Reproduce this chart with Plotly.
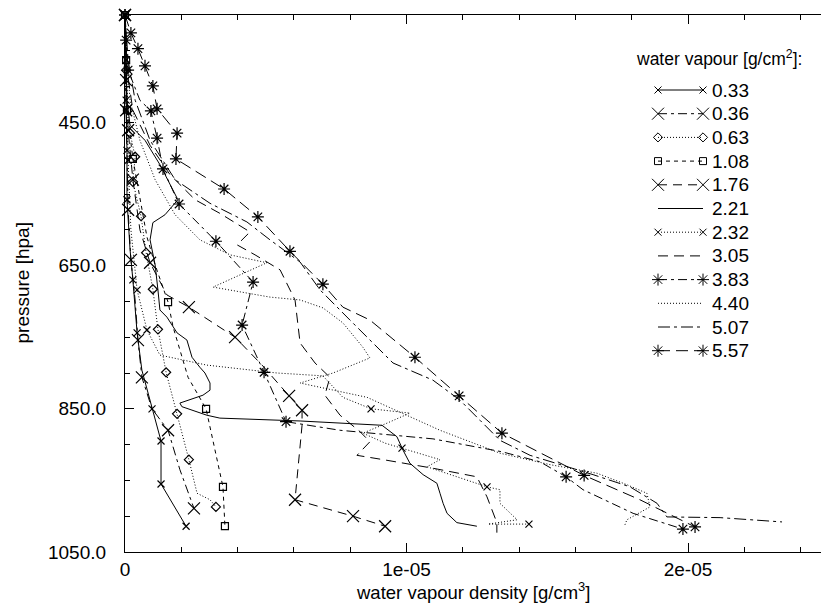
import plotly.graph_objects as go

# densities are given in units of 1e-6 g/cm^3, pressures in hPa
SCALE = 1e-6

LABELS = ["0.33", "0.36", "0.63", "1.08", "1.76", "2.21",
          "2.32", "3.05", "3.83", "4.40", "5.07", "5.57"]

R_033 = [0, 0.04, 0.04, 0.07, 0.07, 0.18, 0.28, 0.43, 0.60, 0.96, 1.28, 1.28, 2.17]
P_033 = [300, 363, 419, 489, 558, 628, 670, 744, 796, 850, 895, 955, 1014]
M_033 = [0, 1, 2, 3, 4, 6, 7, 9, 10, 11, 12]

R_036 = [0, 0, 0.04, 0.07, 0.11, 0.21, 0.36, 0.46, 0.60, 0.96, 1.53, 1.95, 2.45]
P_036 = [300, 363, 433, 503, 572, 642, 698, 754, 806, 850, 880, 935, 989]
M_036 = [0, 2, 4, 5, 7, 8, 10, 12]

R_063 = [0, 0.04, 0.11, 0.18, 0.36, 0.28, 0.57, 0.75, 0.99, 1.17, 1.46, 1.85, 2.27, 2.56, 3.02, 3.23]
P_063 = [300, 377, 433, 465, 498, 533, 581, 632, 683, 739, 799, 857, 921, 968, 977, 987]
M_063 = [1, 2, 3, 4, 5, 6, 7, 8, 9, 10, 11, 12, 15]

R_108 = [0, 0.04, 0.07, 0.28, 0.53, 0.78, 1.07, 1.53, 1.71, 1.85, 2.24, 2.88, 3.20, 3.48, 3.55]
P_108 = [300, 363, 433, 501, 558, 610, 649, 701, 736, 754, 806, 850, 908, 959, 1014]
M_108 = [0, 1, 2, 3, 7, 11, 13, 14]

R_176 = [0, 0.04, 0.11, 0.28, 0.53, 0.89, 1.49, 2.27, 3.91, 4.87, 5.83, 6.29, 6.29, 6.15, 6.04, 8.10, 9.24]
P_176 = [300, 391, 461, 530, 600, 646, 691, 708, 750, 789, 832, 852, 873, 935, 977, 1000, 1014]
M_176 = [0, 1, 2, 3, 5, 7, 8, 10, 11, 14, 15, 16]

R_221 = [0, 0.04, 0.07, 0.18, 0.71, 1.24, 1.60, 1.88, 1.42, 0.99, 0.89, 1.07, 1.17, 1.24,
         1.49, 1.85, 2.20, 2.38, 2.66, 2.84, 3.02, 3.02, 2.77, 2.20, 1.95, 2.02, 2.42, 2.91,
         3.37, 6.22, 9.13, 9.66, 9.88, 10.12, 10.59, 11.08, 11.19, 11.30, 11.44, 11.79, 12.50]
P_221 = [300, 363, 419, 454, 475, 509, 537, 558, 579, 590, 614, 649, 684, 712,
         722, 744, 754, 778, 792, 800, 814, 824, 831, 838, 842, 847, 852, 859,
         863, 867, 873, 889, 908, 926, 942, 954, 968, 982, 996, 1009, 1014]

R_232 = [0, 0.04, 0.11, 0.21, 0.43, 0.78, 1.24, 2.91, 5.40, 7.03, 7.74, 8.74, 10.12, 9.31,
         8.45, 9.24, 9.84, 11.19, 10.73, 12.86, 13.32, 13.32, 13.93, 12.90, 14.35]
P_232 = [300, 391, 503, 600, 684, 740, 775, 789, 800, 804, 834, 850, 856, 870,
         884, 898, 905, 921, 931, 959, 963, 982, 1005, 1011, 1011]
M_232 = [1, 2, 4, 5, 11, 16, 19, 24]

R_305 = [0, 0.07, 0.28, 0.89, 1.60, 2.49, 3.37, 4.44, 3.98, 4.62, 5.51, 6.04, 6.22, 6.75,
         7.28, 7.10, 7.64, 8.35, 8.70, 8.24, 9.17, 10.94, 12.50, 12.86, 13.21, 13.21]
P_305 = [300, 377, 433, 482, 523, 558, 577, 603, 621, 635, 656, 698, 758, 786,
         806, 831, 859, 882, 896, 915, 921, 933, 945, 973, 1009, 1023]

R_383 = [0, 0.04, 0.11, 0.53, 0.92, 1.14, 1.35, 1.92, 3.23, 4.55, 4.16, 4.94, 5.72, 7.64,
         10.94, 13.39, 14.74, 15.67, 16.27, 18.05, 19.82]
P_383 = [300, 335, 377, 419, 434, 472, 515, 564, 616, 673, 733, 799, 868, 880,
         892, 910, 924, 945, 963, 996, 1018]
M_383 = [0, 1, 2, 4, 5, 6, 7, 8, 9, 10, 11, 12, 17, 20]

R_440 = [0, 0.07, 0.18, 0.53, 1.07, 1.78, 2.66, 3.73, 5.04, 3.13, 5.15, 6.22, 7.03, 7.74,
         8.45, 8.70, 7.39, 6.22, 8.60, 11.19, 13.32, 15.10, 16.77, 17.83, 18.54, 18.65, 17.83, 17.76]
P_440 = [300, 363, 419, 475, 530, 579, 614, 635, 646, 680, 694, 698, 709, 730,
         764, 779, 800, 814, 834, 880, 912, 928, 940, 956, 968, 987, 1005, 1012]

R_507 = [0, 0.11, 0.36, 0.89, 1.78, 3.02, 4.33, 5.15, 6.22, 6.93, 7.99, 9.52, 10.94, 11.90,
         12.61, 13.32, 14.39, 15.91, 16.63, 17.94, 18.90, 19.25, 21.14, 23.34]
P_507 = [300, 363, 419, 475, 530, 563, 589, 614, 645, 684, 726, 786, 810, 838,
         866, 894, 915, 933, 942, 959, 982, 1001, 1002, 1008]

R_557 = [0, 0.21, 0.46, 0.71, 0.99, 1.14, 1.85, 1.81, 3.52, 4.72, 5.86, 7.03, 7.74, 8.70,
         10.30, 11.87, 13.39, 16.31, 18.29, 20.25]
P_557 = [300, 325, 347, 371, 399, 431, 465, 501, 543, 582, 630, 676, 708, 726,
         778, 832, 884, 943, 977, 1015]
M_557 = [0, 1, 2, 3, 4, 5, 6, 7, 8, 9, 10, 11, 14, 15, 16, 17, 19]

X_TICKS = [0, 1e-5, 2e-5]
X_TICK_TEXT = ["0", "1e-05", "2e-05"]
Y_TICKS = [450, 650, 850, 1050]

SERIES = [
    (R_033, P_033, M_033), (R_036, P_036, M_036), (R_063, P_063, M_063),
    (R_108, P_108, M_108), (R_176, P_176, M_176), (R_221, P_221, []),
    (R_232, P_232, M_232), (R_305, P_305, []), (R_383, P_383, M_383),
    (R_440, P_440, []), (R_507, P_507, []), (R_557, P_557, M_557),
]

STYLES = [
    dict(dash="solid", symbol="x-thin-open", size=7),
    dict(dash="9px,4px,3px,4px", symbol="x-thin-open", size=12),
    dict(dash="1px,2px", symbol="diamond-open", size=7),
    dict(dash="4px,4px", symbol="square-open", size=7),
    dict(dash="9px,6px", symbol="x-thin-open", size=12),
    dict(dash="solid", symbol=None, size=0),
    dict(dash="1px,2px", symbol="x-thin-open", size=7),
    dict(dash="10px,6px", symbol=None, size=0),
    dict(dash="9px,4px,3px,4px", symbol="asterisk-open", size=10),
    dict(dash="1px,2px", symbol=None, size=0),
    dict(dash="12px,4px,3px,4px", symbol=None, size=0),
    dict(dash="12px,6px", symbol="asterisk-open", size=10),
]

FONT = "Liberation Sans, Arial, sans-serif"
fig = go.Figure()

for (r, p, mk), st in zip(SERIES, STYLES):
    xs = [v * SCALE for v in r]
    fig.add_trace(go.Scatter(x=xs, y=p, mode="lines",
                             line=dict(color="black", width=1, dash=st["dash"]),
                             showlegend=False, hoverinfo="skip"))
    if st["symbol"] and mk:
        fig.add_trace(go.Scatter(
            x=[xs[i] for i in mk], y=[p[i] for i in mk], mode="markers",
            marker=dict(symbol=st["symbol"], size=st["size"], color="black",
                        line=dict(color="black", width=1.2)),
            cliponaxis=False, showlegend=False, hoverinfo="skip"))

# custom legend drawn on an auxiliary axis (paper-like 0..1 coordinates)
PLOT_L, PLOT_R, PLOT_T, PLOT_B = 125, 821, 15, 552
def fx(px):
    return (px - PLOT_L) / (PLOT_R - PLOT_L)
def fy(py):
    return (PLOT_B - py) / (PLOT_B - PLOT_T)

for i, (lab, st) in enumerate(zip(LABELS, STYLES)):
    yrow = fy(90 + 23.7 * i)
    fig.add_trace(go.Scatter(
        x=[fx(658), fx(703)], y=[yrow, yrow], xaxis="x2", yaxis="y2",
        mode="lines+markers" if st["symbol"] else "lines",
        line=dict(color="black", width=1, dash=st["dash"]),
        marker=dict(symbol=st["symbol"] or "circle", size=st["size"],
                    color="black", line=dict(color="black", width=1)),
        cliponaxis=False, showlegend=False, hoverinfo="skip"))
    fig.add_annotation(x=fx(710), y=yrow, xref="x2", yref="y2", text=lab,
                       showarrow=False, xanchor="left", yanchor="middle",
                       font=dict(family=FONT, size=19, color="black"))

fig.add_annotation(x=fx(804), y=fy(58), xref="x2", yref="y2",
                   text="water vapour [g/cm<sup>2</sup>]:", showarrow=False,
                   xanchor="right", yanchor="middle",
                   font=dict(family=FONT, size=17.5, color="black"))

# axis titles
fig.add_annotation(x=0.5, y=fy(591), xref="paper", yref="paper",
                   text="water vapour density [g/cm<sup>3</sup>]", showarrow=False,
                   xanchor="center", yanchor="middle", borderpad=0,
                   font=dict(family=FONT, size=18.5, color="black"))
fig.add_annotation(x=fx(22), y=0.5, xref="paper", yref="paper",
                   text="pressure [hpa]", showarrow=False, textangle=-90,
                   xanchor="center", yanchor="middle",
                   font=dict(family=FONT, size=19, color="black"))

fig.update_layout(
    width=821, height=608,
    margin=dict(l=PLOT_L, r=0, t=PLOT_T, b=608 - PLOT_B),
    paper_bgcolor="white", plot_bgcolor="white",
    font=dict(family=FONT, size=19, color="black"),
    xaxis=dict(range=[0, 696 / 28.15 * SCALE], tickvals=X_TICKS, ticktext=X_TICK_TEXT,
               ticks="inside", ticklen=9, tickwidth=1, tickcolor="black",
               minor=dict(dtick=2e-6, tick0=0, ticks="inside", ticklen=5,
                          tickwidth=1, tickcolor="black"),
               showline=True, linecolor="black", linewidth=1.2, mirror="ticks",
               showgrid=False, zeroline=False, ticklabelstandoff=0,
               automargin=False),
    yaxis=dict(range=[1050, 300], tickvals=Y_TICKS, tickformat=".1f",
               ticks="inside", ticklen=9, tickwidth=1, tickcolor="black",
               minor=dict(dtick=50, tick0=300, ticks="inside", ticklen=5,
                          tickwidth=1, tickcolor="black"),
               showline=True, linecolor="black", linewidth=1.2, mirror=False,
               showgrid=False, zeroline=False, ticklabelstandoff=14,
               automargin=False),
    xaxis2=dict(domain=[0, 1], range=[0, 1], visible=False, anchor="y2", overlaying="x"),
    yaxis2=dict(domain=[0, 1], range=[0, 1], visible=False, anchor="x2", overlaying="y"),
)

fig.write_html("out.html", config={"displayModeBar": False},
               post_script="document.body.style.margin='0';document.body.style.overflow='hidden';")
